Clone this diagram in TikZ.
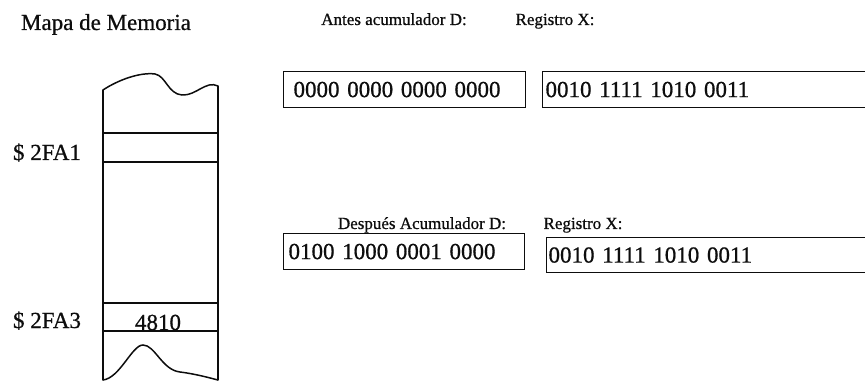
\documentclass[tikz,border=0pt]{standalone}
\usepackage{fontspec}
\setmainfont{Liberation Serif}[FakeBold=0.7]
\usetikzlibrary{arrows,calc,positioning}
\usepackage{tkz-euclide}
\definecolor{InkClr}{rgb}{0.05,0.05,0.05}

\begin{document}
\begin{tikzpicture}[x=1pt,y=-1pt,
  titulo/.style={text=InkClr,font=\fontsize{17}{20}\selectfont},
  etiqueta/.style={text=InkClr,font=\fontsize{23}{26}\selectfont},
  registro/.style={draw=InkClr,line width=1.1pt,text=InkClr,font=\fontsize{23}{26}\selectfont,
    align=left,minimum height=36pt,inner ysep=0pt,anchor=north west}]
\useasboundingbox (0,0) rectangle (865,382);
\tkzSetUpLine[line width=1.5pt,color=InkClr]

% mapa de memoria
\tkzDefPoints{103/90/TL,218/86/TR,103/380/BL,218/380/BR}
\tkzDefPoints{103/133/A1,218/133/B1,103/162/A2,218/162/B2}
\tkzDefPoints{103/303/A3,218/303/B3,103/331/A4,218/331/B4}

\tkzDrawSegments(TL,BL TR,BR A1,B1 A2,B2 A3,B3 A4,B4)
\draw[line width=1.5pt,InkClr] (TL) .. controls (118,80) and (140,72) .. (155,74)
  .. controls (166,76) and (168,94) .. (182,95) .. controls (196,96) and (206,80) .. (TR);
\draw[line width=1.5pt,InkClr] (BL) .. controls (120,378) and (132,345) .. (143,345)
  .. controls (155,345) and (162,370) .. (180,372) .. controls (196,374) and (210,378) .. (BR);

\node[etiqueta,anchor=base] (mapa) at (106,30) {Mapa de Memoria};
\node[etiqueta,anchor=base] (dir1) at (47,160) {\$ 2FA1};
\node[etiqueta,anchor=base] (dir3) at (47,328) {\$ 2FA3};
\node[etiqueta,anchor=base] (dato) at (158,330) {4810};

% antes
\node[titulo,anchor=base] (antesD) at (394,25) {Antes acumulador D:};
\node[titulo,anchor=base] (antesX) at (555,25) {Registro X:};
\node[registro,text width=222pt,inner xsep=10pt] (regD1) at (283,71) {0000 0000 0000 0000};
\node[registro,text width=322pt,inner xsep=3pt] (regX1) at (542,71) {0010 1111 1010 0011};

% despues
\node[titulo,anchor=base] (despD) at (422,229) {Después Acumulador D:};
\node[titulo,anchor=base] (despX) at (583,229) {Registro X:};
\node[registro,text width=231pt,inner xsep=5pt] (regD2) at (283,233) {0100 1000 0001 0000};
\node[registro,text width=320pt,inner xsep=2pt,minimum height=35pt] (regX2) at (546,237) {0010 1111 1010 0011};

\end{tikzpicture}
\end{document}
